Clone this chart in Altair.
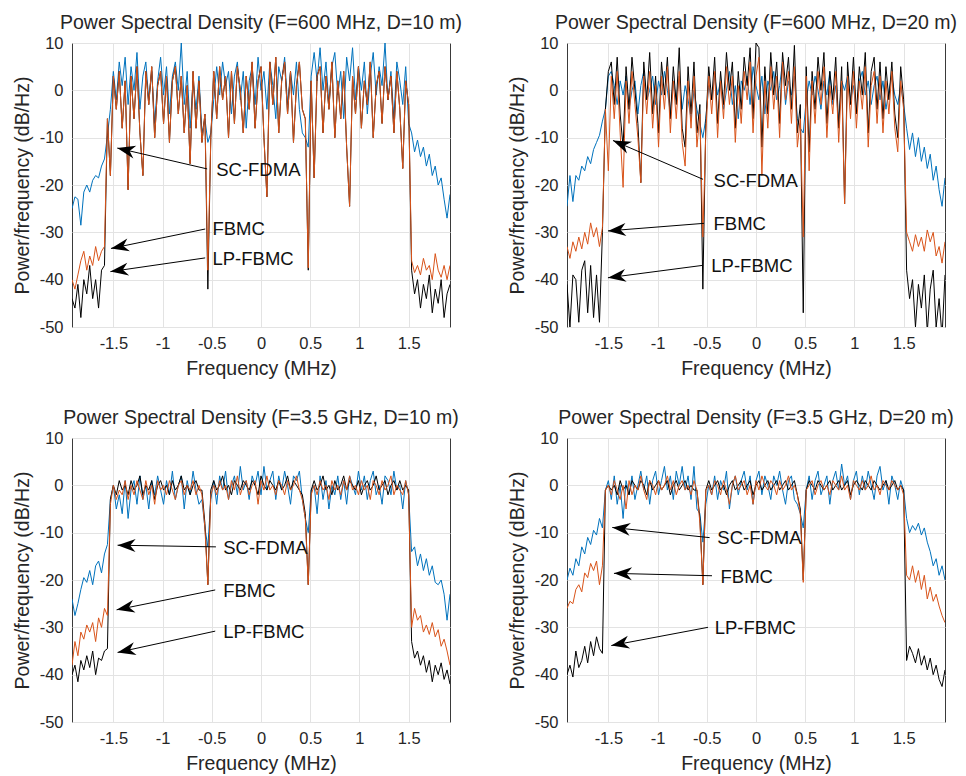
import math
import altair as alt
import pandas as pd

# ---------------- frequency bins (MHz) ----------------
F_START, F_STEP, N_BINS = -1.92, 0.03, 129
freq = [round(F_START + F_STEP * i, 2) for i in range(N_BINS)]

X_TICKS = [-1.5, -1, -0.5, 0, 0.5, 1, 1.5]
Y_TICKS = [-50, -40, -30, -20, -10, 0, 10]

# ---------------- F=600 MHz, D=10 m ----------------
tl_sc = [-25, -22.5, -23, -28.5, -21.5, -20, -21.5, -19, -18, -18.5,
         -16, -14.5, -9.5, -4, 4, -2, 6, 1, 7, -3,
         5, 0, 8, -4, 3, 6, -2, 4, -7, 2,
         7, -1, 5, -5, 3, 6, 0, 10, -3, 4,
         -8, 2, -4, 3, -9, -6, -11, -9, -2, 5,
         -1, 6, 1, 4, -5, 3, 6, -2, 4, -8,
         2, 5, -3, 7, 0, 4, -4, 6, 1, -6,
         5, 2, 7, -3, 4, -1, 6, -4, -9, -10,
         -12, 3, 8, 2, 9, 0, 6, -3, 5, 8,
         -1, 4, -6, 7, 2, 9, -2, 5, 0, 6,
         -5, 3, 8, -1, 5, 1, 10, -2, 4, -6,
         6, 2, -3, 5, -7, -9, -13, -10.5, -14, -12,
         -16, -13.5, -18, -16, -20, -18.5, -23, -27, -22]
tl_fb = [-40, -42, -39, -36, -34, -38, -35, -37, -33, -36,
         -34, -33, -6, -18, 3, -4, 4, -8, 2, -21,
         3, -6, 5, -9, -18, 4, -3, 5, -10, 1,
         4, -7, 3, -11, 2, 5, -5, 3, -9, 1,
         -15.5, 4, -8, 2, -11, -5, -38, -10, 4, -6,
         5, -2, 3, -10, 4, -7, 5, 0, -9, 3,
         -4, 6, -8, 2, 5, -10, -22.5, 6, -3, 7,
         -9, 2, 6, -5, 4, -11, 1, 6, -4, -6,
         -37.5, 2, -18.5, 3, 5, -9, 3, -4, 6, -10,
         2, -6, 4, -12, -24.5, 3, -5, 5, -8, 2,
         -3, 6, -10, 1, 4, -7, 5, -2, 3, -9,
         4, -4, -16.5, 2, -3, -36, -38.5, -37, -39, -35.5,
         -38, -37, -40, -34.5, -38, -39.5, -37, -40, -37]
tl_lp = [-44, -46, -41, -48, -40, -43, -37, -44, -40, -46,
         -38, -37, -6, -18, 3, -4, 4, -8, 2, -21,
         3, -6, 5, -9, -18, 4, -3, 5, -10, 1,
         4, -7, 3, -11, 2, 5, -5, 3, -9, 1,
         -15.5, 4, -8, 2, -11, -5, -42, -10, 4, -6,
         5, -2, 3, -10, 4, -7, 5, 0, -9, 3,
         -4, 6, -8, 2, 5, -10, -22.5, 6, -3, 7,
         -9, 2, 6, -5, 4, -11, 1, 6, -4, -6,
         -38, 2, -18.5, 3, 5, -9, 3, -4, 6, -10,
         2, -6, 4, -12, -24.5, 3, -5, 5, -8, 2,
         -3, 6, -10, 1, 4, -7, 5, -2, 3, -9,
         4, -4, -16.5, 2, -3, -38, -43, -40, -46, -41,
         -44, -39, -47, -42, -45, -40, -48, -43, -41]

# ---------------- F=600 MHz, D=20 m ----------------
tr_sc = [-24.5, -18, -23.5, -18, -19, -16, -17, -14, -15.5, -12.5,
         -11, -9.5, -6.5, -4, 3, 4, 1, -3, 2, -1,
         3, -4, 0, 2, -5, 1, 4, -2, 0, 3,
         -3, 2, -1, 4, 0, -5, 2, -2, 3, -4,
         1, -2, -6, 0, -4, -7, -10, -6, 1, -2,
         3, -1, 2, -4, 0, 4, -3, 1, -6, 2,
         0, 3, -3, 5, 1, -2, 3, -5, 2, 0,
         4, -2, 1, 6, -3, 2, -1, 3, -6, -8,
         -9, -2, 2, -1, 3, 0, -4, 2, -1, 4,
         -3, 1, -7, 2, 0, 3, -2, 1, -5, 2,
         4, -1, 2, -3, 1, 3, -2, 2, -4, 0,
         3, -1, -3, 1, -3, -8, -12.5, -9, -14, -10,
         -15, -12, -16.5, -13.5, -19, -16, -21, -24.5, -18.5]
tr_fb = [-33, -35.5, -32, -34, -31, -33.5, -30, -32.5, -28, -31,
         -29, -33, -29, -4, -17, 3, -6, 4, -9, -20.5,
         2, -7, 4, -3, -10, -19.5, 3, -5, 4, -8,
         1, -12, 3, -4, 5, -9, 2, -6, 4, -11,
         -16, 2, -8, 3, -12, -5, -31, -9, 3, -5,
         4, -10, 2, -6, 5, -3, 3, -11, 1, -7,
         4, -2, 6, -9, 3, 7, -18, 2, -8, 5,
         -4, 3, -10, 6, -2, 4, -7, 5, -12, -6,
         -31, 3, -17, 2, -7, 4, -3, 5, -10, 1,
         -5, 4, -11, 2, -24, 3, -6, 4, -8, 2,
         -4, 5, -12, 1, 4, -7, 3, -9, 2, -5,
         4, -8, -13, 2, -4, -30, -32, -34, -30.5, -33,
         -31, -34, -29.5, -32, -30, -35, -33, -36.5, -32]
tr_lp = [-41, -50, -39, -40, -49, -38, -36, -47, -37, -48,
         -39, -49, -30, -4, 4, 6, -3, 7, -5, -12,
         5, -4, 7, 0, -7, -19.5, 6, -2, 8, -5,
         3, -9, 6, -1, 7, -6, 5, -3, 9, -8,
         -12, 5, -5, 6, -9, -3, -42, -7, 5, -2,
         7, -7, 4, -3, 8, 0, 6, -8, 4, -4,
         7, 1, 9, -6, 10, 9, -12, 5, -5, 8,
         -1, 6, -7, 8, 1, 7, -4, 9.5, -9, -3,
         -47, 5, -13, 4, -4, 7, 0, 8, -7, 4,
         -2, 7, -8, 5, -24, 6, -3, 7, -5, 5,
         -1, 8, -9, 4, 7, -4, 6, -6, 5, -2,
         6, -5, -10, 5, -2, -38, -44, -40, -50, -41,
         -46, -39, -51, -42, -38, -50, -44, -52, -39]

# ---------------- F=3.5 GHz, D=10 m ----------------
bl_sc = [-24, -27.5, -25, -22, -19.5, -20.5, -18, -21, -17, -16,
         -18.5, -14.5, -12.5, -3, 0, -5, -2, -6, 1, -7,
         -1, 1, -4, 2, -3, 0, -5, 1, -2, 2,
         -1, -4, 1, -2, 3, -3, 0, 2, -5, 1,
         -2, 3, -1, -4, -3, -9, -13, -3, 1, -4,
         2, -1, 3, -3, 0, 2, -2, 4, -1, 1,
         -3, 2, 0, 3, -2, 4, -1, 1, 3, -3,
         2, -1, 3, 0, -4, 2, 1, 3, -3, -7,
         -10, -1, 0, -6, 2, -3, 1, -5, 0, -2,
         2, -3, 1, -4, 2, 0, -2, 3, -1, 2,
         -3, 1, 3, -2, 0, -4, 2, 1, -2, 3,
         -1, 0, -5, 1, -2, -14, -13, -17, -14.5, -18,
         -15.5, -19, -17, -20.5, -21, -20, -23, -28.5, -23]
bl_fb = [-38, -33, -36, -31, -32.5, -29.5, -31, -29, -33, -28,
         -30, -26, -27.5, -4, 0, -3, -1, -2, 1, -3,
         0, -2, 1, -1, -3, 1, -2, 0, -4, 1,
         -1, 0, -2, 1, -1, -3, 0, 1, -2, 0,
         -1, 1, -2, 0, -2, -9, -21, -2, 0, -2,
         1, -1, 0, -3, 1, -1, 2, -2, 0, 1,
         -2, 0, 1, -4, 1, -1, 2, -1, 0, -2,
         1, 0, -2, 1, -1, 0, 2, -1, -3, -7,
         -21, -2, 0, -2, 1, -1, 0, -3, 1, -1,
         0, -2, 1, -1, 2, -1, 0, -2, 1, -1,
         0, -3, 1, 0, -2, 1, -1, 0, 2, -2,
         0, -1, -2, 1, -2, -30, -26, -28.5, -27.5, -31,
         -29.5, -31.5, -29, -32, -30.5, -34, -32.5, -35, -38]
bl_lp = [-40, -38, -41.5, -37, -39, -36, -38.5, -35, -40, -36.5,
         -37, -35, -34.5, -3, 0, -2, 1, -1, 0, -2,
         1, -1, 0, 2, -2, 0, -1, 1, -3, 0,
         1, -1, 0, -2, 1, -1, 0, 2, -1, 0,
         -2, 0, 1, -1, -1, -8, -21, -1, 1, -1,
         0, 2, -1, 0, -2, 1, 0, -1, 1, 0,
         -1, 1, 0, -2, 2, 0, -1, 1, 0, -1,
         1, -1, 0, 2, -1, 1, 0, -1, -2, -6,
         -21, -1, 1, -1, 0, 2, -1, 0, -2, 1,
         -1, 0, 2, -1, 1, 0, -1, 1, -2, 0,
         1, -1, 0, 2, -1, 0, 1, -2, 0, 1,
         -1, 1, -1, 0, -1, -33, -36.5, -35, -38, -36,
         -39.5, -37, -41.5, -38, -40, -37.5, -41, -39, -42]

# ---------------- F=3.5 GHz, D=20 m ----------------
br_sc = [-20, -17.5, -19, -15.5, -17, -13, -14.5, -11, -12.5, -9.5,
         -10.5, -7, -9, -1, 1, -3, 2, -4, 0, -7,
         1, -2, 2, -3, 0, 3, -1, 2, -4, 1,
         3, -2, 1, 4, -1, 2, -3, 3, 0, 4,
         -1, 2, -3, 4, -5, -6, -12, -4, 0, -2,
         2, -3, 1, -1, 3, -5, 0, 2, -2, 1,
         3, -1, 2, -4, 1, 3, -2, 2, 0, -3,
         2, 0, 3, -1, -4, 1, 2, -3, -4, -6,
         -9, -1, 2, -3, 1, 3, -2, 0, 2, -4,
         1, 3, -1, 4.5, 0, 2, -3, 1, 3, -2,
         2, -1, 3, 0, -3, 2, 4, -1, 1, -4,
         2, 0, -3, 1, -1, -7, -10, -8.5, -9.5, -8,
         -10.5, -9, -12, -14, -17, -15.5, -19, -17, -20]
br_fb = [-26, -24.5, -25, -22, -21, -22.5, -18.5, -19.5, -16.5, -18,
         -16, -21, -17, -1, 0, -2, 1, -1, -3, 0,
         -5, 1, -2, 0, -1, 2, -1, -3, 1, 0,
         -2, 1, -1, 0, 2, -1, 1, -2, 0, 1,
         -1, 0, -2, 1, -1, -8, -21, -1, 0, -2,
         1, 0, -2, 1, -1, -4, 0, 2, -1, 0,
         1, -2, 0, -4, 1, -1, 2, 0, -1, 1,
         0, -2, 1, -1, 0, 2, -1, 0, -2, -6,
         -20.5, -1, 0, 1, -2, 0, 1, -1, 0, -2,
         1, 0, -1, 2, -1, 0, -3, 1, 0, -1,
         1, -1, 0, 2, -1, 0, -2, 1, 0, -1,
         1, 0, -1, 0, -2, -19, -20, -17, -20.5, -18,
         -22, -19, -24, -21.5, -24.5, -23, -25.5, -27.5, -29]
br_lp = [-40, -38, -40.5, -35, -38.5, -37, -34, -37.5, -33, -36,
         -32, -34.5, -35.5, -1, 0, -1, 0, -2, 1, -1,
         0, -2, 1, 0, -1, 1, 0, -2, 1, -1,
         0, 1, -1, 0, 1, -2, 0, 1, -1, 0,
         1, -1, 0, -1, -1, -7, -21, -1, 1, -1,
         0, 1, -1, 0, -2, 0, 1, -1, 0, 1,
         -1, 0, 1, -2, 0, 1, -1, 0, 1, -1,
         0, 1, -1, 0, 1, -1, 0, 1, -2, -5,
         -20, -1, 1, 0, -1, 1, 0, -1, 0, 1,
         -1, 0, 1, -1, 0, 1, -2, 0, 1, 0,
         -1, 1, 0, -1, 1, 0, -1, 0, 1, -1,
         0, 1, -1, 0, -1, -37, -34, -35.5, -37.5, -34.5,
         -38, -36, -39, -36.5, -40, -38, -41, -42.5, -39]

# ---------------- annotations (data coordinates) ----------------
LABELS = ["SC-FDMA", "FBMC", "LP-FBMC"]
tl_ann = dict(tx=[-0.455, -0.493, -0.493], ty=[-16.8, -29.4, -35.6],
              x0=[-0.547, -0.567, -0.567], y0=[-16.6, -29.3, -35.4],
              x1=[-1.46, -1.524, -1.53], y1=[-12.2, -33.4, -38.3])
tr_ann = dict(tx=[-0.431, -0.431, -0.454], ty=[-19.1, -28.2, -37.2],
              x0=[-0.538, -0.528, -0.549], y0=[-18.8, -28.1, -37.0],
              x1=[-1.453, -1.504, -1.504], y1=[-10.6, -29.7, -39.6])
bl_ann = dict(tx=[-0.384, -0.384, -0.384], ty=[-13.3, -22.4, -30.9],
              x0=[-0.458, -0.465, -0.465], y0=[-13.0, -22.1, -30.8],
              x1=[-1.457, -1.467, -1.457], y1=[-12.65, -26.3, -35.3])
br_ann = dict(tx=[-0.393, -0.36, -0.42], ty=[-11.2, -19.4, -30.2],
              x0=[-0.471, -0.447, -0.488], y0=[-11.05, -19.1, -30.0],
              x1=[-1.46, -1.443, -1.47], y1=[-8.9, -18.6, -33.85])

TITLES = ["Power Spectral Density (F=600 MHz, D=10 m)",
          "Power Spectral Density (F=600 MHz, D=20 m)",
          "Power Spectral Density (F=3.5 GHz, D=10 m)",
          "Power Spectral Density (F=3.5 GHz, D=20 m)"]

for name, arr in [("tl_sc", tl_sc), ("tl_fb", tl_fb), ("tl_lp", tl_lp),
                  ("tr_sc", tr_sc), ("tr_fb", tr_fb), ("tr_lp", tr_lp),
                  ("bl_sc", bl_sc), ("bl_fb", bl_fb), ("bl_lp", bl_lp),
                  ("br_sc", br_sc), ("br_fb", br_fb), ("br_lp", br_lp)]:
    assert len(arr) == N_BINS, (name, len(arr))

# ---------------- styling ----------------
W, H = 378, 284
X_DOMAIN = [-1.92, 1.92]
Y_DOMAIN = [-50, 10]
FONT = "Liberation Sans"
TXT = "#262626"
C_SC, C_FB, C_LP = "#0072BD", "#D95319", "#000000"
ARROW = "M0,0 L-2,-0.72 L-1.4,0 L-2,0.72 Z"
MINUS = "replace(datum.label, '\u2212', '-')"


def panel(title, sc, fb, lp, ann):
    df = pd.DataFrame({"f": freq, "sc": sc, "fb": fb, "lp": lp})
    xs = alt.Scale(domain=X_DOMAIN, nice=False, zero=False)
    ys = alt.Scale(domain=Y_DOMAIN, nice=False, zero=False)
    xax = alt.Axis(values=X_TICKS, format="~g", labelExpr=MINUS, title="Frequency (MHz)")
    yax = alt.Axis(values=Y_TICKS, format="d", labelExpr=MINUS, title="Power/frequency (dB/Hz)")

    layers = []
    for col, color in [("sc", C_SC), ("lp", C_LP), ("fb", C_FB)]:
        layers.append(
            alt.Chart(df).mark_line(color=color, strokeWidth=1, clip=True).encode(
                x=alt.X("f:Q", scale=xs, axis=xax),
                y=alt.Y(f"{col}:Q", scale=ys, axis=yax),
            )
        )

    a = pd.DataFrame(ann)
    a["label"] = LABELS
    angs = []
    for x0, y0, x1, y1 in zip(a.x0, a.y0, a.x1, a.y1):
        dxp = (x1 - x0) / (X_DOMAIN[1] - X_DOMAIN[0]) * W
        dyp = -(y1 - y0) / (Y_DOMAIN[1] - Y_DOMAIN[0]) * H
        angs.append(math.degrees(math.atan2(dyp, dxp)) % 360)
    a["ang"] = angs

    rule = alt.Chart(a).mark_rule(color="black", strokeWidth=1).encode(
        x=alt.X("x0:Q", scale=xs, axis=xax), y=alt.Y("y0:Q", scale=ys, axis=yax),
        x2="x1:Q", y2="y1:Q")
    head = alt.Chart(a).mark_point(shape=ARROW, filled=True, size=324, color="black",
                                   opacity=1, strokeWidth=0).encode(
        x=alt.X("x1:Q", scale=xs, axis=xax), y=alt.Y("y1:Q", scale=ys, axis=yax),
        angle=alt.Angle("ang:Q", scale=None))
    text = alt.Chart(a).mark_text(align="left", baseline="middle", font=FONT,
                                  fontSize=18.5, color="#111111").encode(
        x=alt.X("tx:Q", scale=xs, axis=xax), y=alt.Y("ty:Q", scale=ys, axis=yax),
        text="label:N")

    return alt.layer(*layers, rule, head, text).properties(
        width=W, height=H, title=alt.TitleParams(text=title))


tl = panel(TITLES[0], tl_sc, tl_fb, tl_lp, tl_ann)
tr = panel(TITLES[1], tr_sc, tr_fb, tr_lp, tr_ann)
bl = panel(TITLES[2], bl_sc, bl_fb, bl_lp, bl_ann)
br = panel(TITLES[3], br_sc, br_fb, br_lp, br_ann)

chart = alt.concat(tl, tr, bl, br, columns=2,
                   spacing={"row": 111, "column": 117}, bounds="flush").configure_view(
    stroke="#3a3a3a", strokeWidth=1
).configure_axis(
    grid=True, gridColor="#e3e3e3", gridWidth=1, domain=False, ticks=False,
    labelFont=FONT, labelFontSize=16.5, labelColor=TXT,
    titleFont=FONT, titleFontSize=19.5, titleColor=TXT, titleFontWeight="normal",
).configure_axisX(labelPadding=8, titlePadding=8).configure_axisY(
    labelPadding=9, titlePadding=7
).configure_title(
    font=FONT, fontSize=19.5, color=TXT, fontWeight="normal", anchor="middle",
    frame="group", offset=2
).properties(padding={"left": 11, "top": 12, "right": 0, "bottom": 0})

chart.save("out.html", embed_options={"renderer": "svg", "actions": False})
